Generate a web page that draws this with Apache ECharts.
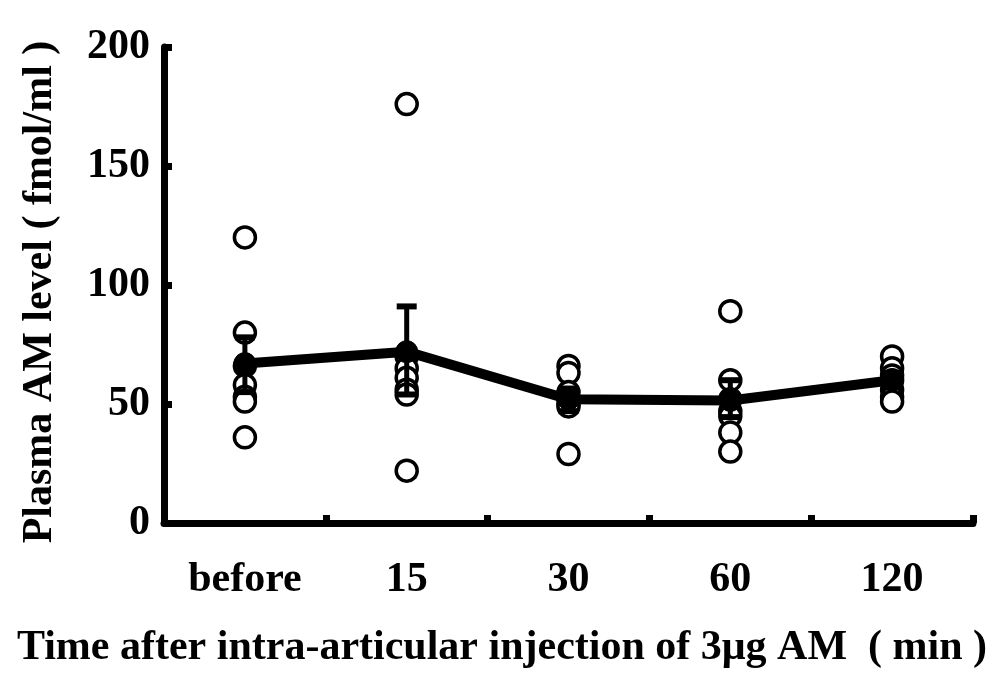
<!DOCTYPE html>
<html>
<head>
<meta charset="utf-8">
<script src="https://cdn.jsdelivr.net/npm/echarts@6/dist/echarts.min.js"></script>
<style>html,body{margin:0;padding:0;background:#fff}#c{width:1004px;height:699px}</style>
</head>
<body>
<div id="c"></div>
<script>
const categories = ['before', '15', '30', '60', '120'];
const yTicks = [0, 50, 100, 150, 200];
const xTitle = 'Time after intra-articular injection of 3μg AM  ( min )';
const yTitle = 'Plasma AM level ( fmol/ml )';
// individual values per time point (open circles)
const ptsBefore = [120, 80, 66, 58, 53, 51, 36];
const pts15 = [176, 70, 65, 61, 56, 54, 22];
const pts30 = [66, 63, 55, 52, 50, 49, 29];
const pts60 = [89, 60, 52, 47, 45, 38, 30];
const pts120 = [70, 65, 62, 60, 56, 53, 51];
// mean and error bar ends
const means = [67, 72, 52, 51.5, 60];
const errUpper = [78, 91, 56.5, 60, 63];
const errLower = [55, 54, 47, 44.5, 57];

const allPts = [ptsBefore, pts15, pts30, pts60, pts120];
const scatterData = [];
allPts.forEach((arr, i) => arr.forEach(v => scatterData.push([categories[i], v])));
const errData = categories.map((c, i) => [c, errLower[i], errUpper[i]]);

const FONT = '"Liberation Serif", "Times New Roman", serif';
const chart = echarts.init(document.getElementById('c'));
chart.setOption({
  animation: false,
  backgroundColor: '#fff',
  grid: { left: 164, right: 31, top: 47, bottom: 176, containLabel: false, outerBoundsMode: 'none' },
  graphic: [{
    type: 'text',
    x: 502, y: 648,
    style: {
      text: xTitle, fill: '#000', fontFamily: FONT, fontWeight: 'bold', fontSize: 42,
      textAlign: 'center', textVerticalAlign: 'middle'
    }
  }],
  xAxis: {
    type: 'category',
    data: categories,
    boundaryGap: true,
    axisLine: { lineStyle: { color: '#000', width: 7 } },
    axisTick: { show: true, inside: true, length: 8, lineStyle: { color: '#000', width: 7 } },
    axisLabel: { color: '#000', fontFamily: FONT, fontWeight: 'bold', fontSize: 42, margin: 36, interval: 0, hideOverlap: false }
  },
  yAxis: {
    type: 'value',
    min: 0, max: 200, interval: 50,
    splitLine: { show: false },
    axisLine: { show: true, lineStyle: { color: '#000', width: 7 } },
    axisTick: { show: true, inside: true, length: 8, lineStyle: { color: '#000', width: 7 } },
    axisLabel: {
      color: '#000', fontFamily: FONT, fontWeight: 'bold', fontSize: 42, margin: 14,
      formatter: v => yTicks.includes(v) ? String(v) : ''
    },
    name: yTitle,
    nameLocation: 'middle',
    nameGap: 103,
    nameTextStyle: { color: '#000', fontFamily: FONT, fontWeight: 'bold', fontSize: 42, padding: [0, 14, 0, 0] }
  },
  series: [
    {
      type: 'scatter',
      data: scatterData,
      symbol: 'circle',
      symbolSize: 21,
      itemStyle: { color: '#fff', borderColor: '#000', borderWidth: 3.5, opacity: 1 },
      z: 2
    },
    {
      type: 'custom',
      data: errData,
      renderItem: function (params, api) {
        const x = api.value(0);
        const lo = api.coord([x, api.value(1)]);
        const hi = api.coord([x, api.value(2)]);
        const half = 10;
        const style = { stroke: '#000', lineWidth: 6 };
        return {
          type: 'group',
          children: [
            { type: 'line', shape: { x1: hi[0], y1: hi[1], x2: lo[0], y2: lo[1] }, style: { stroke: '#000', lineWidth: 5 } },
            { type: 'line', shape: { x1: hi[0] - half, y1: hi[1], x2: hi[0] + half, y2: hi[1] }, style },
            { type: 'line', shape: { x1: lo[0] - half, y1: lo[1], x2: lo[0] + half, y2: lo[1] }, style }
          ]
        };
      },
      z: 3
    },
    {
      type: 'line',
      data: means,
      symbol: 'circle',
      symbolSize: 22,
      showSymbol: true,
      lineStyle: { color: '#000', width: 10 },
      itemStyle: { color: '#000', borderColor: '#000' },
      z: 4
    }
  ]
});
</script>
</body>
</html>
